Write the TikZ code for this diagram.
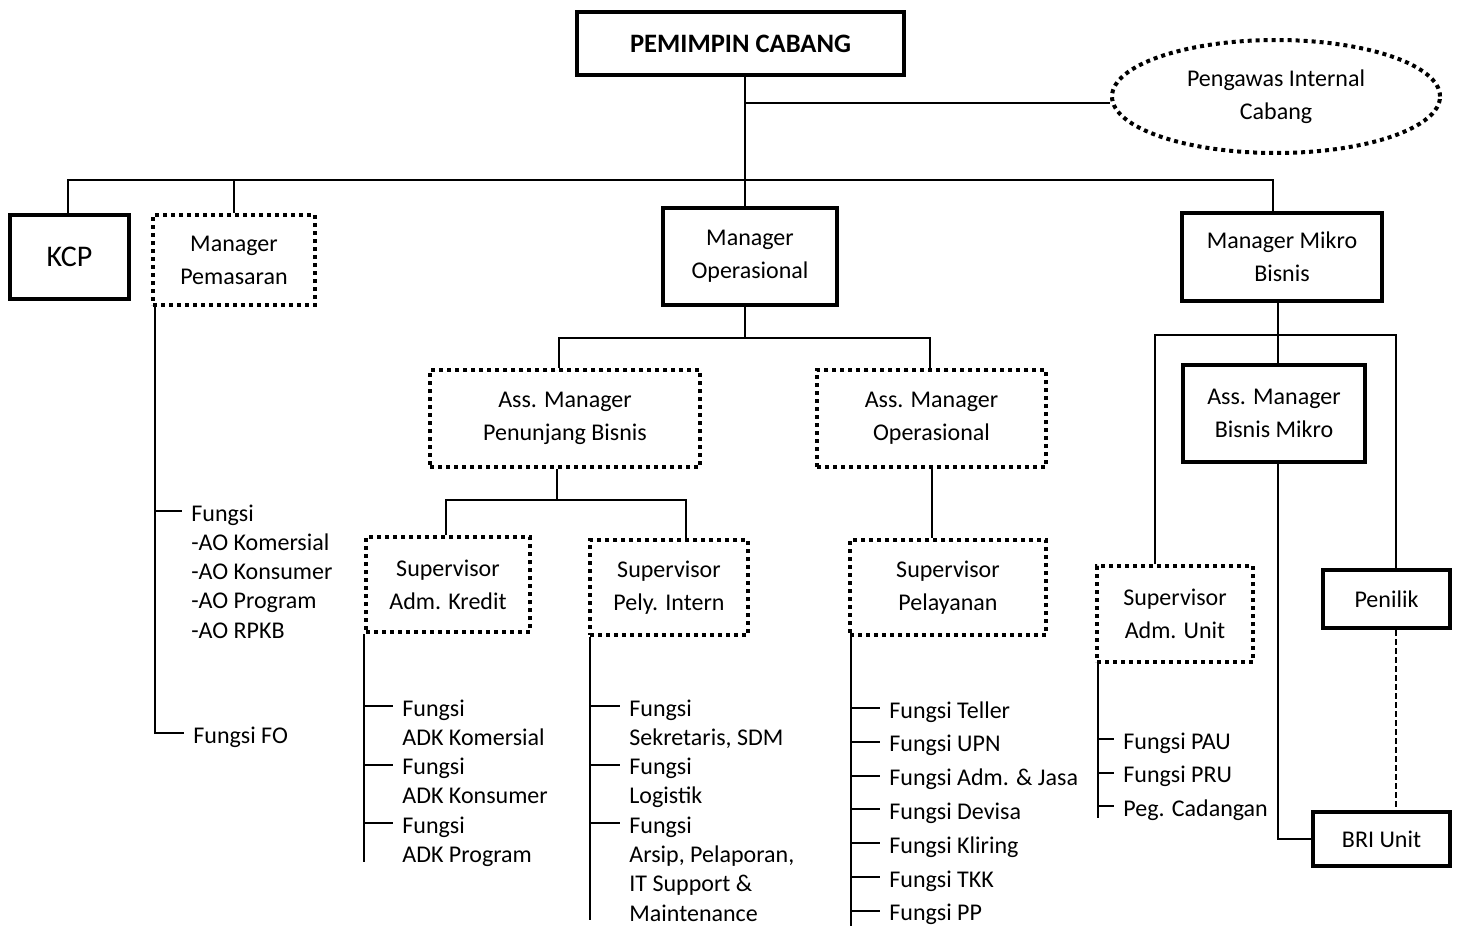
\documentclass[tikz,border=0pt]{standalone}
\usepackage{fontspec}
\setmainfont{Carlito}
\usetikzlibrary{shapes.geometric}
\begin{document}
\begin{tikzpicture}[x=0.5pt,y=-0.5pt]
                \tikzstyle{unit}=[draw,line width=2.2pt,align=center,inner sep=0pt,font=\fontsize{12}{16.5}\selectfont]
                \tikzstyle{dotunit}=[unit,line width=2pt,dash pattern=on 2pt off 2pt]
                \tikzstyle{link}=[line width=1pt]
                \tikzstyle{fn}=[anchor=west,inner xsep=4.5pt,inner ysep=0pt,text height=11pt,text depth=1pt,font=\fontsize{12}{14.75}\selectfont]

                \useasboundingbox (0,0) rectangle (1460,926);

                \node[unit,minimum width=163.5pt,minimum height=31.5pt,font=\fontsize{13.3}{15}\selectfont\bfseries] (pc) at (740.5,43.5) {PEMIMPIN CABANG};
                \node[dotunit,ellipse,minimum width=164pt,minimum height=56.5pt] (pic) at (1276,96.5) {Pengawas Internal\\Cabang};

                \node[unit,minimum width=59.5pt,minimum height=42pt,font=\fontsize{15}{17}\selectfont] (kcp) at (69.5,257) {KCP};
                \node[dotunit,minimum width=81pt,minimum height=45pt] (mp) at (234,260) {Manager\\Pemasaran};
                \node[unit,minimum width=87pt,minimum height=48.5pt] (mo) at (750,256.5) {Manager\\Operasional};
                \node[unit,minimum width=100pt,minimum height=44pt] (mmb) at (1282,257) {Manager Mikro\\Bisnis};

                \node[dotunit,minimum width=135pt,minimum height=48.5pt] (ampb) at (565,418.5) {Ass. Manager\\Penunjang Bisnis};
                \node[dotunit,minimum width=114.5pt,minimum height=48.5pt] (amo) at (931.5,418.5) {Ass. Manager\\Operasional};
                \node[unit,minimum width=91pt,minimum height=48.5pt] (ambm) at (1274,413.5) {Ass. Manager\\Bisnis Mikro};

                \node[dotunit,minimum width=82pt,minimum height=47.5pt] (sak) at (448,584.5) {Supervisor\\Adm. Kredit};
                \node[dotunit,minimum width=79pt,minimum height=47.5pt] (spi) at (669,587.5) {Supervisor\\Pely. Intern};
                \node[dotunit,minimum width=98pt,minimum height=47.5pt] (spl) at (948,587.5) {Supervisor\\Pelayanan};
                \node[dotunit,minimum width=78pt,minimum height=48pt] (sau) at (1175,614) {Supervisor\\Adm. Unit};
                \node[unit,minimum width=63.5pt,minimum height=29pt] (pen) at (1386.5,599) {Penilik};
                \node[unit,minimum width=68.5pt,minimum height=27pt] (bri) at (1381.5,839) {BRI Unit};

                \coordinate (bus) at (745,180);
                \coordinate (busL) at (68,180);
                \coordinate (busR) at (1273,180);
                \coordinate (picjoin) at (745,103);
                \draw[link] (pc.south -| bus) -- (bus);
                \draw[link] (picjoin) -- (pic.west |- picjoin);
                \draw[link] (busL |- kcp.north) -- (busL) -- (busR) -- (busR |- mmb.north);
                \draw[link] (mp.north) -- (mp.north |- bus);
                \draw[link] (bus) -- (bus |- mo.north);

                \coordinate (opbus) at (745,338);
                \coordinate (opL) at (559,338);
                \coordinate (opR) at (930,338);
                \draw[link] (mo.south -| opbus) -- (opbus);
                \draw[link] (opL |- ampb.north) -- (opL) -- (opR) -- (opR |- amo.north);

                \coordinate (pbM) at (557,500);
                \coordinate (pbL) at (446,500);
                \coordinate (pbR) at (686,500);
                \draw[link] (ampb.south -| pbM) -- (pbM);
                \draw[link] (pbL |- sak.north) -- (pbL) -- (pbR) -- (pbR |- spi.north);
                \draw[link] (amo.south) -- (amo.south |- spl.north);

                \coordinate (mbM) at (1278,335);
                \coordinate (mbL) at (1155,335);
                \coordinate (mbR) at (1396,335);
                \draw[link] (mmb.south -| mbM) -- (mbM |- ambm.north);
                \draw[link] (mbL |- sau.north) -- (mbL) -- (mbR) -- (mbR |- pen.north);
                \draw[link] (ambm.south -| mbM) |- (bri.west);
                \draw[link,dash pattern=on 3pt off 1.5pt] (pen.south -| mbR) -- (bri.north -| mbR);

                \coordinate (mpend) at (155,733);
                \foreach \t [count=\i from 0] in {Fungsi,-AO Komersial,-AO Konsumer,-AO Program,-AO RPKB}
                    \node[fn] (mpf\i) at (182,511+29.3*\i) {\t};
                \node[fn] (mpfo) at (184,733) {Fungsi FO};
                \draw[link] (mp.south -| mpend) -- (mpend) -- (mpfo.west);
                \draw[link] (mpend |- mpf0.west) -- (mpf0.west);

                \coordinate (sakend) at (364,862);
                \foreach \t [count=\i from 0] in {Fungsi,ADK Komersial,Fungsi,ADK Konsumer,Fungsi,ADK Program}
                    \node[fn] (sakf\i) at (393,706+29.3*\i) {\t};
                \draw[link] (sak.south -| sakend) -- (sakend);
                \foreach \i in {0,2,4}
                    \draw[link] (sakend |- sakf\i.west) -- (sakf\i.west);

                \coordinate (spiend) at (590,920);
                \foreach \t [count=\i from 0] in {Fungsi,{Sekretaris, SDM},Fungsi,Logistik,Fungsi,{Arsip, Pelaporan,},IT Support \&,Maintenance}
                    \node[fn] (spif\i) at (620,706+29.3*\i) {\t};
                \draw[link] (spi.south -| spiend) -- (spiend);
                \foreach \i in {0,2,4}
                    \draw[link] (spiend |- spif\i.west) -- (spif\i.west);

                \coordinate (splend) at (851,926);
                \draw[link] (spl.south -| splend) -- (splend);
                \foreach \t [count=\i from 0] in {Fungsi Teller,Fungsi UPN,Fungsi Adm. \& Jasa,Fungsi Devisa,Fungsi Kliring,Fungsi TKK,Fungsi PP} {
                    \node[fn] (splf\i) at (880,708+33.8*\i) {\t};
                    \draw[link] (splend |- splf\i.west) -- (splf\i.west);
                }

                \coordinate (sauend) at (1098,818);
                \draw[link] (sau.south -| sauend) -- (sauend);
                \foreach \t [count=\i from 0] in {Fungsi PAU,Fungsi PRU,Peg. Cadangan} {
                    \node[fn] (sauf\i) at (1114,739+33.5*\i) {\t};
                    \draw[link] (sauend |- sauf\i.west) -- (sauf\i.west);
                }
\end{tikzpicture}
\end{document}
